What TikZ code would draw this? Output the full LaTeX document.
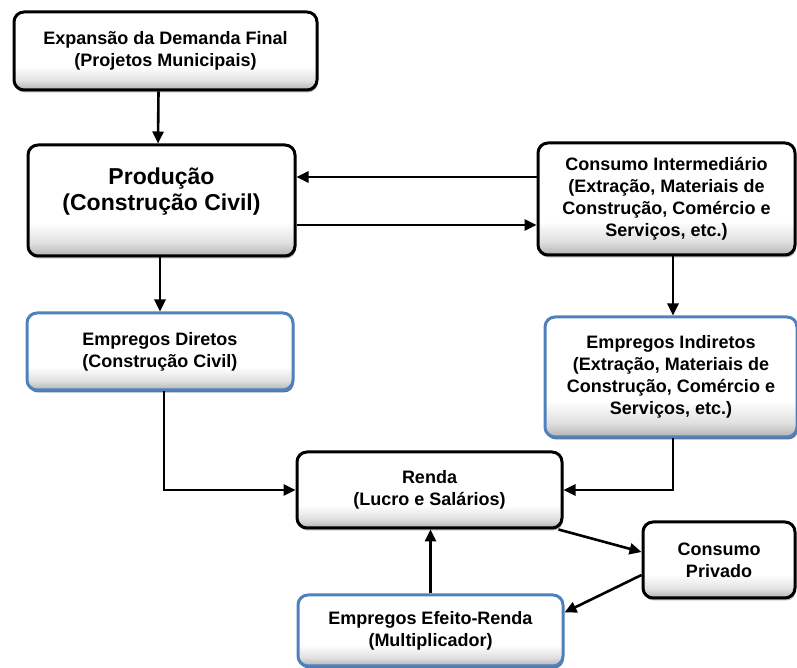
\documentclass[tikz,border=0pt]{standalone}
\usepackage{fontspec}
\setmainfont{Liberation Sans}
\usetikzlibrary{arrows.meta,shadows}
\definecolor{boxblue}{RGB}{79,129,189}
\definecolor{shadeblue}{RGB}{50,80,120}
\pgfdeclareverticalshading{cardshade}{100bp}{color(0bp)=(black!30); color(25bp)=(black!30);
	color(31bp)=(black!12); color(40bp)=(white); color(100bp)=(white)}

\begin{document}
\begin{tikzpicture}[x=1pt,y=1pt,
		card/.style={rounded corners=10pt,line width=3pt,shading=cardshade,
			align=center,inner sep=0pt,font=\bfseries\fontsize{18}{22}\selectfont},
		blk/.style={card,draw=black,drop shadow={shadow xshift=1pt,shadow yshift=-2.5pt,opacity=.6}},
		blu/.style={card,draw=boxblue,drop shadow={shadow xshift=1pt,shadow yshift=-2.5pt,fill=shadeblue,opacity=.8}},
		arr/.style={-{Triangle[length=12pt,width=11pt]},line width=2.6pt}]
		\useasboundingbox (0,0) rectangle (797,668);

		\node[blk,minimum width=303pt,minimum height=78pt] (exp) at (165.5,617) {Expansão da Demanda Final\\(Projetos Municipais)};
		\node[blk,minimum width=267pt,minimum height=111pt,font=\bfseries\fontsize{23}{26}\selectfont] (prod) at (161.5,467.5) {Produção\\(Construção Civil)\\[-4pt]\mbox{}};
		\node[blk,minimum width=257pt,minimum height=112pt] (cint) at (666.5,469) {Consumo Intermediário\\(Extração, Materiais de\\Construção, Comércio e\\Serviços, etc.)};

		\node[blu,minimum width=266pt,minimum height=77pt] (edir) at (160,316.5) {Empregos Diretos\\(Construção Civil)};
		\node[blu,minimum width=252pt,minimum height=120pt] (eind) at (671,291) {Empregos Indiretos\\(Extração, Materiais de\\Construção, Comércio e\\Serviços, etc.)};

		\node[blk,minimum width=265pt,minimum height=76pt] (renda) at (429.5,178) {Renda\\(Lucro e Salários)};
		\node[blk,minimum width=152pt,minimum height=76pt] (cpriv) at (719,108) {Consumo\\Privado};
		\node[blu,minimum width=265pt,minimum height=71pt] (eefr) at (430.5,37.5) {Empregos Efeito-Renda\\(Multiplicador)};

		% ligacoes
		\draw[arr] ([xshift=-7pt]exp.south) -- ([xshift=-3.5pt]prod.north);
		\draw[arr] ([yshift=22pt]cint.west) -- ([yshift=22pt]cint.west -| prod.east);
		\draw[arr] ([yshift=-24.5pt]prod.east) -- ([yshift=-24.5pt]prod.east -| cint.west);
		\draw[arr] (prod.south -| edir.north) -- (edir.north);
		\draw[arr] ([xshift=2pt]eind.north |- cint.south) -- ([xshift=2pt]eind.north);

		\draw[arr] ([xshift=4pt]edir.south) |- (renda.west);
		\draw[arr] ([xshift=2pt]eind.south) |- (renda.east);

		\draw[arr] ([xshift=-5pt]renda.south east) -- ([yshift=8pt]cpriv.west);
		\draw[arr] ([yshift=-15pt]cpriv.west) -- ([yshift=18pt]eefr.east);
		\draw[arr] (eefr.north) -- (eefr.north |- renda.south);
\end{tikzpicture}
\end{document}
